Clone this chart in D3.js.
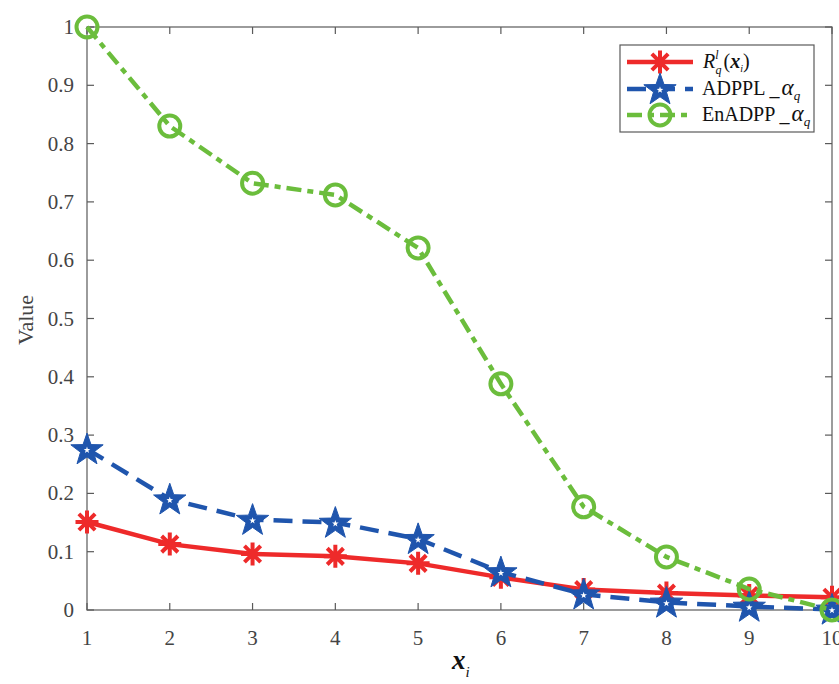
<!DOCTYPE html>
<html>
<head>
<meta charset="utf-8">
<script src="https://cdn.jsdelivr.net/npm/d3@7"></script>
<style>
  body { margin: 0; background: #fff; }
  svg { font-family: "Liberation Serif", "Times New Roman", serif; }
</style>
</head>
<body>
<svg id="chart" width="839" height="684"></svg>
<script>
// data
const xs = [1, 2, 3, 4, 5, 6, 7, 8, 9, 10];
const rValues = [0.151, 0.113, 0.096, 0.092, 0.080, 0.056, 0.035, 0.029, 0.025, 0.022];
const adpplValues = [0.276, 0.190, 0.155, 0.150, 0.122, 0.065, 0.027, 0.013, 0.006, 0.001];
const enadppValues = [1.0, 0.830, 0.732, 0.712, 0.621, 0.388, 0.177, 0.091, 0.036, 0.0];
const yTicks = [0, 0.1, 0.2, 0.3, 0.4, 0.5, 0.6, 0.7, 0.8, 0.9, 1];

let svg = d3.select("#chart");

let margin = {left: 87, right: 832, top: 27, bottom: 610};

let x = d3.scaleLinear().domain([1, 10]).range([margin.left, margin.right]);
let y = d3.scaleLinear().domain([0, 1]).range([margin.bottom, margin.top]);

const axisColor = "#5a5a5a";
const textColor = "#444";

// box around plot
svg.append("rect")
    .attr("x", margin.left)
    .attr("y", margin.top)
    .attr("width", margin.right - margin.left)
    .attr("height", margin.bottom - margin.top)
    .attr("fill", "none")
    .attr("stroke", axisColor)
    .attr("stroke-width", 1.2);

// ticks, pointing inward on all four sides
let tickLen = 7;
let ticks = svg.append("g").attr("stroke", axisColor).attr("stroke-width", 1.2);
xs.forEach(v => {
    ticks.append("line").attr("x1", x(v)).attr("x2", x(v))
        .attr("y1", margin.bottom).attr("y2", margin.bottom - tickLen);
    ticks.append("line").attr("x1", x(v)).attr("x2", x(v))
        .attr("y1", margin.top).attr("y2", margin.top + tickLen);
});
yTicks.forEach(v => {
    ticks.append("line").attr("x1", margin.left).attr("x2", margin.left + tickLen)
        .attr("y1", y(v)).attr("y2", y(v));
    ticks.append("line").attr("x1", margin.right).attr("x2", margin.right - tickLen)
        .attr("y1", y(v)).attr("y2", y(v));
});

// tick labels
svg.append("g")
    .selectAll("text")
    .data(xs)
    .join("text")
    .attr("x", d => x(d))
    .attr("y", 645)
    .attr("text-anchor", "middle")
    .attr("font-size", 21)
    .attr("fill", textColor)
    .text(d => d);

svg.append("g")
    .selectAll("text")
    .data(yTicks)
    .join("text")
    .attr("x", 74)
    .attr("y", d => y(d) + 7)
    .attr("text-anchor", "end")
    .attr("font-size", 21)
    .attr("fill", textColor)
    .text(d => d === 0 || d === 1 ? String(d) : d.toFixed(1));

// axis titles
svg.append("text")
    .attr("transform", "translate(33,320) rotate(-90)")
    .attr("text-anchor", "middle")
    .attr("font-size", 22)
    .attr("fill", textColor)
    .text("Value");

let xl = svg.append("text")
    .attr("x", 452)
    .attr("y", 669)
    .attr("font-size", 27)
    .attr("fill", "#111");
xl.append("tspan").attr("font-weight", "bold").attr("font-style", "italic").text("x");
xl.append("tspan").attr("font-style", "italic").attr("font-size", 15).attr("dy", 8).text("i");

// marker paths
function starPath(r) {
    let pts = [];
    for (let i = 0; i < 10; i++) {
        let rad = i % 2 === 0 ? r : r * 0.4;
        let a = -Math.PI / 2 + i * Math.PI / 5;
        pts.push([rad * Math.cos(a), rad * Math.sin(a)]);
    }
    return "M" + pts.map(p => p[0].toFixed(2) + "," + p[1].toFixed(2)).join("L") + "Z";
}
function asteriskPath(r) {
    let d = "";
    for (let i = 0; i < 4; i++) {
        let a = i * Math.PI / 4;
        d += "M" + (r * Math.cos(a)).toFixed(2) + "," + (r * Math.sin(a)).toFixed(2) +
             "L" + (-r * Math.cos(a)).toFixed(2) + "," + (-r * Math.sin(a)).toFixed(2);
    }
    return d;
}

const series = [
    {name: "r", values: rValues, color: "#ee2a2a", dash: null, marker: "asterisk"},
    {name: "adppl", values: adpplValues, color: "#1f55ad", dash: "19,10", marker: "star"},
    {name: "enadpp", values: enadppValues, color: "#6bbd3c", dash: "15,6,6,6", marker: "circle"}
];

let line = d3.line().x((d, i) => x(xs[i])).y(d => y(d));

function drawMarker(g, type, color, cx, cy) {
    if (type === "asterisk") {
        g.append("path").attr("d", asteriskPath(11.5))
            .attr("transform", `translate(${cx},${cy})`)
            .attr("stroke", color).attr("stroke-width", 4).attr("fill", "none");
    } else if (type === "star") {
        g.append("path").attr("d", starPath(17))
            .attr("transform", `translate(${cx},${cy + 1})`)
            .attr("fill", color).attr("stroke", color).attr("stroke-width", 1);
        g.append("path").attr("d", starPath(3.5))
            .attr("transform", `translate(${cx},${cy + 1})`)
            .attr("fill", "#fff");
    } else {
        g.append("circle").attr("cx", cx).attr("cy", cy).attr("r", 10.5)
            .attr("fill", "none").attr("stroke", color).attr("stroke-width", 4);
    }
}

series.forEach(s => {
    let g = svg.append("g");
    g.append("path")
        .datum(s.values)
        .attr("d", line)
        .attr("fill", "none")
        .attr("stroke", s.color)
        .attr("stroke-width", 4.5)
        .attr("stroke-dasharray", s.dash);
    s.values.forEach((v, i) => drawMarker(g, s.marker, s.color, x(xs[i]), y(v)));
});

// legend
let legend = svg.append("g");
legend.append("rect")
    .attr("x", 620).attr("y", 45).attr("width", 194).attr("height", 87)
    .attr("fill", "#fff").attr("stroke", axisColor).attr("stroke-width", 1.2);

let rows = [62, 89, 115];
series.forEach((s, i) => {
    legend.append("line")
        .attr("x1", 627).attr("x2", 693)
        .attr("y1", rows[i]).attr("y2", rows[i])
        .attr("stroke", s.color).attr("stroke-width", 4.5)
        .attr("stroke-dasharray", s.dash);
    drawMarker(legend, s.marker, s.color, 660, rows[i]);
});

let t1 = legend.append("text").attr("x", 703).attr("y", rows[0] + 6).attr("font-size", 20).attr("fill", "#111");
t1.append("tspan").attr("font-style", "italic").text("R");
t1.append("tspan").attr("font-style", "italic").attr("font-size", 12).attr("dy", -9).text("l");
t1.append("tspan").attr("font-style", "italic").attr("font-size", 12).attr("dx", -3).attr("dy", 15).text("q");
t1.append("tspan").attr("dy", -6).attr("dx", 2).text("(");
t1.append("tspan").attr("font-weight", "bold").attr("font-style", "italic").text("x");
t1.append("tspan").attr("font-style", "italic").attr("font-size", 10).attr("dy", 4).text("i");
t1.append("tspan").attr("dy", -4).text(")");

[["ADPPL", 1], ["EnADPP", 2]].forEach(([label, i]) => {
    let t = legend.append("text").attr("x", 702).attr("y", rows[i] + 6).attr("font-size", 20).attr("fill", "#111");
    t.append("tspan").text(label + " _");
    t.append("tspan").attr("font-style", "italic").attr("font-size", 23).attr("dx", 2).text("α");
    t.append("tspan").attr("font-style", "italic").attr("font-size", 13).attr("dy", 5).text("q");
});
</script>
</body>
</html>
